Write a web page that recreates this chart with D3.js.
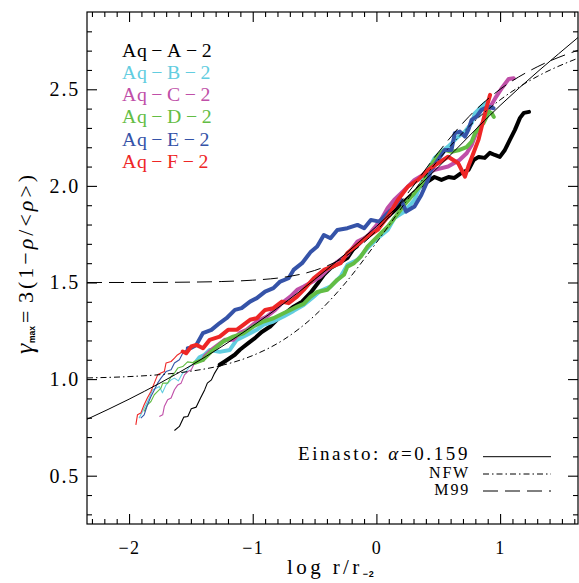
<!DOCTYPE html>
<html>
<head>
<meta charset="utf-8">
<script src="https://cdn.jsdelivr.net/npm/d3@7"></script>
<style>
  body { margin: 0; background: #fff; }
  svg { display: block; }
  text { font-family: "Liberation Serif", "DejaVu Serif", serif; }
</style>
</head>
<body>
<svg id="chart" width="579" height="583"></svg>
<script>
// ============= Data =============
// log r/r-2 and gamma_max for each Aquarius halo, level 2
const logR_A = [-1.633,-1.593,-1.558,-1.525,-1.497,-1.457,-1.422,-1.389,-1.367,-1.334,-1.308,-1.267,-1.226,-1.145,-1.104,-1.036,-0.982,-0.927,-0.859,-0.805,-0.737,-0.670,-0.601,-0.534,-0.477,-0.425,-0.371,-0.235,-0.191,-0.110,0.004,0.118,0.240,0.363,0.469,0.526,0.583,0.631,0.688,0.745,0.786,0.827,0.876,0.917,0.957,0.998,1.039,1.079,1.120,1.161,1.193,1.234];
const gamma_A = [0.734,0.755,0.803,0.806,0.846,0.855,0.902,0.944,0.979,0.996,1.031,1.074,1.091,1.126,1.152,1.186,1.212,1.244,1.272,1.307,1.341,1.375,1.401,1.446,1.493,1.540,1.575,1.626,1.669,1.720,1.783,1.855,1.927,2.000,2.046,2.031,2.046,2.041,2.067,2.083,2.134,2.150,2.145,2.171,2.160,2.150,2.186,2.238,2.290,2.352,2.378,2.383];

const logR_B = [-1.919,-1.891,-1.864,-1.837,-1.810,-1.782,-1.755,-1.730,-1.701,-1.660,-1.633,-1.601,-1.566,-1.538,-1.511,-1.484,-1.457,-1.430,-1.389,-1.348,-1.267,-1.185,-1.130,-1.049,-0.967,-0.914,-0.833,-0.751,-0.670,-0.588,-0.507,-0.452,-0.371,-0.289,-0.235,-0.153,-0.072,0.010,0.091,0.145,0.227,0.308,0.363,0.417,0.471,0.526,0.580,0.662,0.716,0.770,0.797,0.838,0.878];
const gamma_B = [0.798,0.832,0.867,0.902,0.944,0.953,0.962,0.929,0.970,0.996,1.005,0.991,1.031,1.039,1.065,1.074,1.091,1.113,1.126,1.151,1.141,1.151,1.203,1.229,1.255,1.281,1.298,1.324,1.353,1.384,1.427,1.457,1.479,1.531,1.591,1.617,1.678,1.729,1.772,1.833,1.867,1.928,2.015,2.083,2.145,2.177,2.203,2.255,2.281,2.324,2.376,2.403,2.428];

const logR_C = [-1.755,-1.728,-1.715,-1.688,-1.660,-1.633,-1.606,-1.579,-1.552,-1.525,-1.497,-1.470,-1.443,-1.402,-1.389,-1.334,-1.280,-1.226,-1.158,-1.104,-1.049,-0.967,-0.886,-0.818,-0.764,-0.696,-0.641,-0.588,-0.507,-0.452,-0.398,-0.316,-0.235,-0.153,-0.072,-0.018,0.037,0.091,0.143,0.200,0.254,0.308,0.390,0.471,0.580,0.672,0.730,0.770,0.811,0.865,0.906,0.961,1.015,1.069,1.110];
const gamma_C = [0.806,0.815,0.858,0.893,0.902,0.945,0.970,0.979,1.022,1.039,1.048,1.083,1.091,1.100,1.117,1.151,1.177,1.203,1.203,1.239,1.255,1.298,1.324,1.358,1.393,1.427,1.462,1.479,1.508,1.531,1.565,1.607,1.643,1.712,1.738,1.782,1.824,1.885,1.927,1.962,1.996,2.031,2.062,2.083,2.100,2.134,2.169,2.212,2.281,2.333,2.393,2.454,2.507,2.553,2.557];

const logR_D = [-1.878,-1.851,-1.823,-1.796,-1.769,-1.742,-1.728,-1.688,-1.660,-1.633,-1.606,-1.566,-1.527,-1.470,-1.402,-1.321,-1.240,-1.158,-1.076,-0.995,-0.914,-0.833,-0.751,-0.696,-0.641,-0.588,-0.534,-0.479,-0.397,-0.316,-0.262,-0.235,-0.181,-0.126,-0.072,0.010,0.091,0.145,0.227,0.308,0.390,0.444,0.501,0.553,0.607,0.672,0.729,0.770,0.797,0.865,0.892,0.908,0.933,0.949];
const gamma_D = [0.832,0.867,0.884,0.919,0.936,0.953,0.979,0.979,1.013,1.031,1.057,1.065,1.089,1.084,1.100,1.151,1.194,1.220,1.237,1.272,1.298,1.315,1.341,1.358,1.375,1.389,1.425,1.451,1.462,1.514,1.540,1.582,1.600,1.634,1.686,1.738,1.789,1.833,1.902,1.964,2.031,2.109,2.161,2.186,2.176,2.186,2.201,2.229,2.273,2.324,2.359,2.385,2.376,2.357];

const logR_E = [-1.905,-1.878,-1.851,-1.823,-1.796,-1.769,-1.742,-1.701,-1.660,-1.633,-1.593,-1.566,-1.525,-1.497,-1.456,-1.403,-1.334,-1.267,-1.212,-1.144,-1.090,-1.022,-0.967,-0.900,-0.833,-0.778,-0.710,-0.670,-0.601,-0.534,-0.479,-0.425,-0.371,-0.316,-0.235,-0.153,-0.099,-0.045,0.023,0.091,0.145,0.200,0.240,0.308,0.363,0.417,0.444,0.499,0.553,0.607,0.634,0.675,0.716,0.743,0.770,0.811,0.851,0.906,0.947];
const gamma_E = [0.798,0.815,0.867,0.910,0.944,0.979,1.005,1.039,1.048,1.083,1.100,1.134,1.160,1.162,1.177,1.238,1.255,1.290,1.315,1.358,1.367,1.401,1.419,1.453,1.471,1.505,1.522,1.565,1.600,1.656,1.686,1.746,1.729,1.772,1.781,1.798,1.781,1.824,1.815,1.859,1.893,1.927,1.867,1.893,1.953,2.031,2.083,2.135,2.186,2.186,2.273,2.281,2.255,2.290,2.342,2.359,2.394,2.410,2.402];

const logR_F = [-1.945,-1.932,-1.905,-1.878,-1.851,-1.823,-1.796,-1.769,-1.742,-1.715,-1.701,-1.660,-1.633,-1.609,-1.566,-1.538,-1.497,-1.456,-1.402,-1.348,-1.267,-1.199,-1.130,-1.076,-1.022,-0.967,-0.900,-0.833,-0.764,-0.710,-0.642,-0.588,-0.507,-0.425,-0.289,-0.235,-0.153,-0.072,0.010,0.091,0.173,0.254,0.336,0.417,0.499,0.580,0.662,0.716,0.743,0.784,0.825,0.865,0.892,0.919];
const gamma_F = [0.763,0.815,0.824,0.867,0.903,0.936,0.979,1.022,1.031,1.039,1.083,1.091,1.108,1.125,1.143,1.134,1.169,1.177,1.160,1.203,1.220,1.255,1.255,1.281,1.307,1.315,1.358,1.367,1.401,1.393,1.427,1.462,1.522,1.565,1.600,1.652,1.695,1.738,1.772,1.841,1.927,1.996,2.031,2.083,2.117,2.151,2.117,2.048,2.100,2.169,2.238,2.342,2.410,2.471];

// convergence radius: thin line inside, thick line outside
const convR = [-1.267, -1.457, -1.402, -1.470, -1.525, -1.566];

const haloNames  = ['Aq−A−2', 'Aq−B−2', 'Aq−C−2', 'Aq−D−2', 'Aq−E−2', 'Aq−F−2'];
const haloColors = ['#000000', '#62cde0', '#c04fa8', '#63bd44', '#3553a8', '#ee2626'];

// model curves
const einastoX = [-2.34, -2, -1.5, -1, -0.5, 0, 0.5, 1, 1.63];
const einastoY = [0.792, 0.896, 1.070, 1.275, 1.515, 1.790, 2.097, 2.416, 2.768];

const nfwX = [-2.34, -2, -1.75, -1.5, -1.25, -1, -0.75, -0.5, -0.25, 0, 0.25, 0.5, 0.75, 1, 1.3, 1.63];
const nfwY = [1.006, 1.013, 1.023, 1.041, 1.071, 1.122, 1.204, 1.328, 1.498, 1.706, 1.927, 2.134, 2.308, 2.445, 2.566, 2.661];

const m99X = [-2.34, -2, -1.5, -1.25, -1, -0.75, -0.5, -0.25, 0, 0.25, 0.5, 0.75, 1, 1.3, 1.63];
const m99Y = [1.500, 1.500, 1.502, 1.505, 1.512, 1.527, 1.562, 1.635, 1.767, 1.959, 2.173, 2.360, 2.500, 2.616, 2.702];

const xMajor = [-2, -1, 0, 1];
const yMajor = [0.5, 1.0, 1.5, 2.0, 2.5];

// ============= Layout =============
const svg = d3.select('#chart');
const padL = 87, padR = 578, padT = 12, padB = 524;

const x = d3.scaleLinear().domain([-2.34, 1.63]).range([padL, padR]);
const y = d3.scaleLinear().domain([0.25, 2.9]).range([padB, padT]);

const xMinor = d3.range(-23, 17).map(d => d / 10).filter(d => !xMajor.some(m => Math.abs(m - d) < 1e-6));
const yMinor = d3.range(3, 29).map(d => d / 10).filter(d => !yMajor.some(m => Math.abs(m - d) < 1e-6));

// ============= Curves =============
const plot = svg.append('g');

const simLine = d3.line()
  .x(d => x(d[0]))
  .y(d => y(d[1]));

const xs = [logR_A, logR_B, logR_C, logR_D, logR_E, logR_F];
const ys = [gamma_A, gamma_B, gamma_C, gamma_D, gamma_E, gamma_F];

xs.forEach((lr, i) => {
  const pts = lr.map((v, j) => [v, ys[i][j]]);
  const inner = pts.filter(p => p[0] <= convR[i] + 1e-6);
  const outer = pts.filter(p => p[0] >= convR[i] - 1e-6);

  plot.append('path')
    .attr('d', simLine(inner))
    .attr('fill', 'none')
    .attr('stroke', haloColors[i])
    .attr('stroke-width', 1.1)
    .attr('stroke-linejoin', 'round');

  plot.append('path')
    .attr('d', simLine(outer))
    .attr('fill', 'none')
    .attr('stroke', haloColors[i])
    .attr('stroke-width', 4)
    .attr('stroke-linejoin', 'round')
    .attr('stroke-linecap', 'round');
});

const modelLine = d3.line()
  .x(d => x(d[0]))
  .y(d => y(d[1]))
  .curve(d3.curveMonotoneX);

const models = [
  {xv: einastoX, yv: einastoY, dash: null},
  {xv: nfwX, yv: nfwY, dash: '6,3,1.5,3'},
  {xv: m99X, yv: m99Y, dash: '15,7'}
];

models.forEach(m => {
  plot.append('path')
    .attr('d', modelLine(m.xv.map((v, j) => [v, m.yv[j]])))
    .attr('fill', 'none')
    .attr('stroke', '#000')
    .attr('stroke-width', 1)
    .attr('stroke-dasharray', m.dash);
});

// ============= Axes =============
function styleAxis(g, size){
  g.select('.domain').remove();
  g.selectAll('line').attr('stroke', '#000').attr('stroke-width', 1.1);
  g.attr('font-family', '"Liberation Serif", serif').attr('font-size', size);
  g.selectAll('text').attr('fill', '#000');
}

svg.append('g').attr('transform', `translate(0,${padB})`)
  .call(d3.axisBottom(x).tickValues(xMajor).tickSize(-10).tickPadding(17).tickFormat(d3.format('d')))
  .call(g => styleAxis(g, 18))
  .call(g => g.selectAll('text').attr('letter-spacing', 1.5));
svg.append('g').attr('transform', `translate(0,${padB})`)
  .call(d3.axisBottom(x).tickValues(xMinor).tickSize(-5).tickFormat(''))
  .call(g => styleAxis(g, 10));
svg.append('g').attr('transform', `translate(0,${padT})`)
  .call(d3.axisTop(x).tickValues(xMajor).tickSize(-10).tickFormat(''))
  .call(g => styleAxis(g, 10));
svg.append('g').attr('transform', `translate(0,${padT})`)
  .call(d3.axisTop(x).tickValues(xMinor).tickSize(-5).tickFormat(''))
  .call(g => styleAxis(g, 10));

svg.append('g').attr('transform', `translate(${padL},0)`)
  .call(d3.axisLeft(y).tickValues(yMajor).tickSize(-10).tickPadding(7).tickFormat(d3.format('.1f')))
  .call(g => styleAxis(g, 20))
  .call(g => g.selectAll('text').attr('letter-spacing', 1.8));
svg.append('g').attr('transform', `translate(${padL},0)`)
  .call(d3.axisLeft(y).tickValues(yMinor).tickSize(-5).tickFormat(''))
  .call(g => styleAxis(g, 10));
svg.append('g').attr('transform', `translate(${padR},0)`)
  .call(d3.axisRight(y).tickValues(yMajor).tickSize(-10).tickFormat(''))
  .call(g => styleAxis(g, 10));
svg.append('g').attr('transform', `translate(${padR},0)`)
  .call(d3.axisRight(y).tickValues(yMinor).tickSize(-5).tickFormat(''))
  .call(g => styleAxis(g, 10));

svg.append('rect')
  .attr('x', padL).attr('y', padT)
  .attr('width', padR - padL).attr('height', padB - padT)
  .attr('fill', 'none').attr('stroke', '#000').attr('stroke-width', 1.2);

// ============= Axis titles =============
const xTitle = svg.append('text')
  .attr('x', 287).attr('y', 574)
  .attr('font-size', 21)
  .attr('letter-spacing', 3.4)
  .attr('fill', '#000');
xTitle.append('tspan').text('log r/r');
xTitle.append('tspan')
  .attr('font-family', '"Liberation Sans", sans-serif')
  .attr('font-weight', 'bold')
  .attr('font-size', 9)
  .attr('letter-spacing', 0.8)
  .attr('dy', 3)
  .text('−2');

const yTitle = svg.append('text')
  .attr('transform', 'translate(33,354) rotate(-90)')
  .attr('font-size', 22)
  .attr('fill', '#000');
yTitle.append('tspan').attr('x', 0).attr('font-size', 26).attr('font-style', 'italic').text('γ');
yTitle.append('tspan').attr('x', 11).attr('dy', 2)
  .attr('font-family', '"Liberation Sans", sans-serif')
  .attr('font-weight', 'bold').attr('font-size', 8.5).text('max');
yTitle.append('tspan').attr('x', 31).attr('dy', -2).text('=');
const yRest = yTitle.append('tspan').attr('x', 51).attr('letter-spacing', 3);
yRest.append('tspan').text('3(1−');
yRest.append('tspan').attr('font-style', 'italic').text('ρ');
yRest.append('tspan').text('/<');
yRest.append('tspan').attr('font-style', 'italic').text('ρ');
yRest.append('tspan').text('>)');

// ============= Legends =============
const legendBaselines = [56.7, 79, 101, 123, 145.5, 167.5];
const haloLegend = svg.append('g').selectAll('text')
  .data(haloNames)
  .join('text')
  .attr('x', 122)
  .attr('y', (d, i) => legendBaselines[i])
  .attr('font-size', 19.8)
  .attr('fill', (d, i) => haloColors[i]);
// "Aq" kept tight, the dashes and the rest spaced out
haloLegend.append('tspan').attr('letter-spacing', 0.8).text(d => d.slice(0, 2));
haloLegend.append('tspan').attr('dx', 3.5).attr('letter-spacing', 4.6).text(d => d.slice(2));

const modelLegend = [
  {label: 'Einasto', y: 460, lineY: 456.7, dash: null, size: 19},
  {label: 'NFW', y: 477.5, lineY: 474, dash: '6,3,1.5,3', size: 16},
  {label: 'M99', y: 495, lineY: 491, dash: '15,7', size: 16}
];

modelLegend.forEach(m => {
  const t = svg.append('text')
    .attr('x', 470).attr('y', m.y)
    .attr('text-anchor', 'end')
    .attr('font-size', m.size)
    .attr('fill', '#000')
    .attr('letter-spacing', m.label === 'Einasto' ? 2.6 : 1.8);
  if (m.label === 'Einasto'){
    t.append('tspan').text('Einasto:  ');
    t.append('tspan').attr('font-style', 'italic').text('α');
    t.append('tspan').text('=0.159');
  } else {
    t.text(m.label);
  }
  svg.append('line')
    .attr('x1', 483).attr('x2', 551)
    .attr('y1', m.lineY).attr('y2', m.lineY)
    .attr('stroke', '#000').attr('stroke-width', 1)
    .attr('stroke-dasharray', m.dash);
});
</script>
</body>
</html>
